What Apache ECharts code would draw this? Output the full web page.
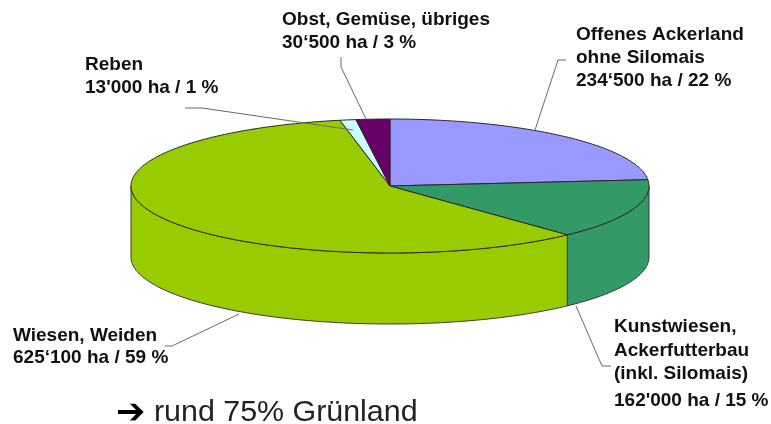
<!DOCTYPE html>
<html><head><meta charset="utf-8">
<style>html,body{margin:0;padding:0;background:#fff}#c{width:771px;height:424px}</style>
<script src="https://cdn.jsdelivr.net/npm/echarts@6/dist/echarts.min.js"></script>
</head><body><div id="c"></div>
<script>
var categories = ['Offenes Ackerland ohne Silomais','Kunstwiesen, Ackerfutterbau (inkl. Silomais)','Wiesen, Weiden','Reben','Obst, Gemüse, übriges'];
var sliceShares = [23.5, 14.5, 58.9, 1.0, 2.1];
var sliceColors = ['#9999FF','#339966','#99CC00','#CCFFFF','#660066'];
// Printed labels as they appear on the picture
var labelOffen = ['Offenes Ackerland','ohne Silomais','234‘500 ha / 22 %'];
var labelKunst = ['Kunstwiesen,','Ackerfutterbau','(inkl. Silomais)','162\'000 ha / 15 %'];
var labelWiesen = ['Wiesen, Weiden','625‘100 ha / 59 %'];
var labelReben = ['Reben','13\'000 ha / 1 %'];
var labelObst = ['Obst, Gemüse, übriges','30‘500 ha / 3 %'];
var noteArrow = '➔';
var noteText = 'rund 75% Grünland';

var P = {cx:390, cy:186, rx:259, ry:67, depth:71};
var EDGE = '#2a2a2a', LEAD = '#6a6a6a';
var total = sliceShares.reduce(function(a,b){return a+b},0);
var starts = [], acc = 0;
sliceShares.forEach(function(v){starts.push(acc); acc += v;});
function pt(t, dy){ return [P.cx + P.rx*Math.sin(t), P.cy - P.ry*Math.cos(t) + (dy||0)]; }
function arc(a, b, dy){ var n = Math.max(2, Math.ceil(Math.abs(b-a)/0.02)), o=[];
  for (var i=0;i<=n;i++) o.push(pt(a+(b-a)*i/n, dy)); return o; }
function angles(api){ var s = api.value(1)/total*2*Math.PI, v = api.value(0)/total*2*Math.PI; return [s, s+v]; }

function renderWall(params, api){
  var an = angles(api), a = Math.max(an[0], Math.PI/2), b = Math.min(an[1], Math.PI*1.5);
  if (b <= a) return {type:'group', children:[]};
  var top = arc(a,b,0), bot = arc(a,b,P.depth).reverse();
  return {type:'polygon', shape:{points: top.concat(bot)},
    style:{fill: sliceColors[params.dataIndex], stroke:'#3a3a3a', lineWidth:1}};
}
function renderTop(params, api){
  var an = angles(api);
  return {type:'polygon', shape:{points: [[P.cx,P.cy]].concat(arc(an[0],an[1],0))},
    style:{fill: sliceColors[params.dataIndex], stroke:EDGE, lineWidth:1}};
}
var rows = categories.map(function(c,i){ return {name:c, value:[sliceShares[i], starts[i]]}; });

function textBlock(lines, x, ys){
  return lines.map(function(t,i){ return {type:'text', x:x, y:ys[i], z:20,
    style:{text:t, fill:'#111', font:'bold 19px "Liberation Sans", Arial, sans-serif', textVerticalAlign:'middle'}}; });
}
function leader(points, z){ return {type:'polyline', z:z||5, shape:{points:points},
  style:{stroke:LEAD, lineWidth:1, fill:null}}; }

var gfx = [].concat(
  textBlock(labelObst, 282, [20,43]),
  textBlock(labelOffen, 576, [35,58,81]),
  textBlock(labelReben, 85, [65,88]),
  textBlock(labelWiesen, 13, [336,358]),
  textBlock(labelKunst, 614, [327,351,374,401]),
  [ leader([[341,57],[341,67],[366,119]]),
    leader([[566,60],[558,60],[535,130]]),
    leader([[576,306],[602,366],[611,366]]),
    leader([[239,314],[172,346],[165,346]]),
    leader([[185,108],[202,108],[353,130]]),
    {type:'text', x:116, y:414, z:20, style:{text:noteArrow, fill:'#000', font:'bold 35px "DejaVu Sans", sans-serif', textVerticalAlign:'middle'}},
    {type:'text', x:154, y:413, z:20, style:{text:noteText, fill:'#222', font:'30.4px "Liberation Sans", Arial, sans-serif', textVerticalAlign:'middle'}}
  ]);

var chart = echarts.init(document.getElementById('c'), null, {renderer:'canvas'});
chart.setOption({
  animation:false, backgroundColor:'#fff',
  tooltip:{show:false},
  graphic:{elements:gfx},
  series:[
    {type:'custom', name:'walls', coordinateSystem:'none', silent:true, z:1, renderItem:renderWall, data:rows},
    {type:'custom', name:'tops', coordinateSystem:'none', silent:true, z:2, renderItem:renderTop, data:rows}
  ]
});
</script></body></html>
